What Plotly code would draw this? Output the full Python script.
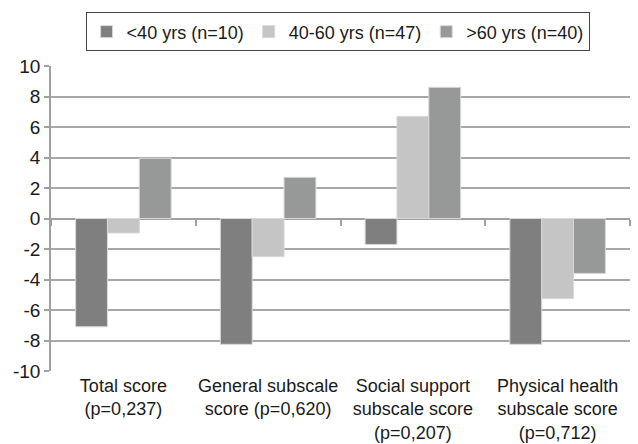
import plotly.graph_objects as go

categories = ["Total score<br>(p=0,237)", "General subscale<br>score (p=0,620)",
              "Social support<br>subscale score<br>(p=0,207)", "Physical health<br>subscale score<br>(p=0,712)"]
series_names = ["<40 yrs (n=10)", "40-60 yrs (n=47)", ">60 yrs (n=40)"]
under40 = [-7.1, -8.25, -1.7, -8.25]
mid40_60 = [-0.95, -2.5, 6.7, -5.25]
over60 = [3.95, 2.7, 8.6, -3.6]
colors = ["#7f7f7f", "#c4c5c4", "#979998"]
y_ticks = list(range(-10, 11, 2))
y_tick_text = [str(v) for v in y_ticks]

fig = go.Figure()
for name, vals, col in zip(series_names, [under40, mid40_60, over60], colors):
    fig.add_trace(go.Bar(x=categories, y=vals, name=name,
                         marker=dict(color=col, line=dict(color="#d8d8d8", width=1))))

# invisible trace for the zero-line axis with boundary ticks
fig.add_trace(go.Scatter(x=categories, y=[0]*4, xaxis="x2", mode="markers",
                         marker=dict(opacity=0), showlegend=False, hoverinfo="skip"))

fig.update_layout(
    width=638, height=444,
    margin=dict(l=51, r=8, t=66, b=73, autoexpand=False),
    paper_bgcolor="white", plot_bgcolor="white",
    font=dict(family="Liberation Sans, Arial, sans-serif", size=19, color="#1a1a1a"),
    barmode="group", bargap=0.34, bargroupgap=0,
    legend=dict(orientation="h", x=0.495, xanchor="center", y=0.972, yanchor="top",
                yref="container", bordercolor="#444", borderwidth=1,
                font=dict(size=18), traceorder="normal"),
    xaxis=dict(showline=False, ticks="", showgrid=False, tickfont=dict(size=18),
               automargin=False, ticklabelstandoff=2),
    xaxis2=dict(overlaying="x", matches="x", anchor="free", position=0.5, showline=False,
                ticks="outside", ticklen=6, tickcolor="#a0a0a0", tickwidth=1.5,
                tickson="boundaries", showticklabels=False, showgrid=False),
    yaxis=dict(range=[-10, 10], tickvals=y_ticks, ticktext=y_tick_text, showline=True,
               linecolor="#a0a0a0", linewidth=1.5,
               ticks="outside", ticklen=5, tickcolor="#a0a0a0", tickwidth=1.5,
               showgrid=True, gridcolor="#a8a8a8", gridwidth=1.5, zeroline=True,
               zerolinecolor="#a0a0a0", zerolinewidth=1.5, tickfont=dict(size=19), automargin=False),
)
fig.write_html("out.html", config={"displayModeBar": False},
               post_script="document.body.style.margin='0';")
